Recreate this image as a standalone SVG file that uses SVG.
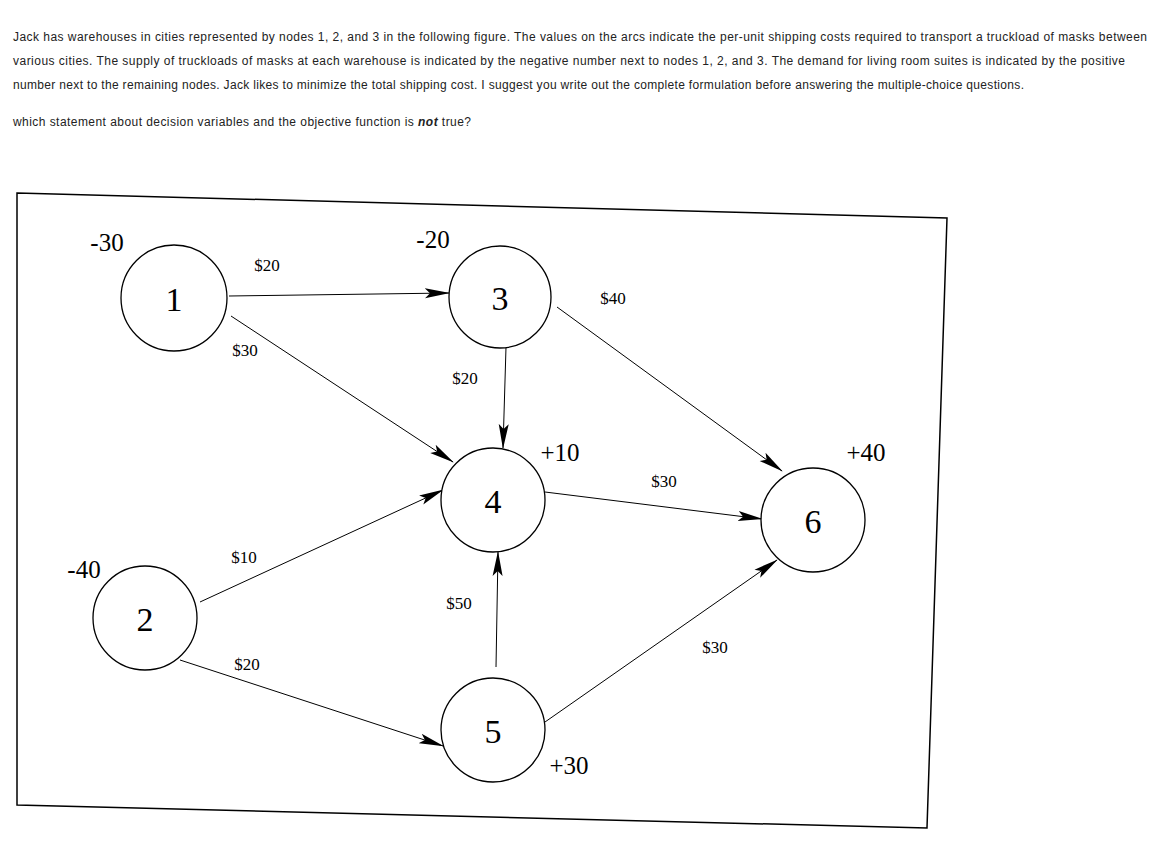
<svg xmlns="http://www.w3.org/2000/svg" width="1165" height="856" viewBox="0 0 1165 856">
<style>
.q{font-family:"Liberation Sans",Arial,sans-serif;font-size:12px;fill:#222}
.n circle{fill:#fff;stroke:#000;stroke-width:1.3}
.n text{font-family:"Liberation Serif","Times New Roman",serif;font-size:34px;text-anchor:middle}
.c{font-family:"Liberation Serif","Times New Roman",serif;font-size:17px;text-anchor:middle}
.s{font-family:"Liberation Serif","Times New Roman",serif;font-size:25px;text-anchor:middle}
#edges line{stroke:#000;stroke-width:1;marker-end:url(#a)}
</style>
<defs><marker id="a" markerWidth="26" markerHeight="12" refX="24" refY="6" orient="auto" markerUnits="userSpaceOnUse"><path d="M0,1 L25,6 L0,11 L5,6 Z" fill="#000"/></marker></defs>
<rect width="1165" height="856" fill="#fff"/>
<text class="q" x="13" y="41" textLength="1134" lengthAdjust="spacing">Jack has warehouses in cities represented by nodes 1, 2, and 3 in the following figure.  The values on the arcs indicate the per-unit shipping costs required to transport a truckload of masks between</text>
<text class="q" x="13" y="65" textLength="1112" lengthAdjust="spacing">various cities.  The supply of truckloads of masks at each warehouse is indicated by the negative number next to nodes 1, 2, and 3.  The demand for living room suites is indicated by the positive</text>
<text class="q" x="13" y="89" textLength="1011" lengthAdjust="spacing">number next to the remaining nodes.  Jack likes to minimize the total shipping cost.  I suggest you write out the complete formulation before answering the multiple-choice questions.</text>
<text class="q" x="13" y="126" textLength="458" lengthAdjust="spacing">which statement about decision variables and the objective function is <tspan font-weight="bold" font-style="italic">not</tspan> true?</text>
<polygon points="17,193 947,218 927,828 17,805" fill="none" stroke="#000" stroke-width="1.5"/>
<g id="edges">
<line x1="229" y1="296" x2="449" y2="293"/>
<line x1="231" y1="316" x2="453" y2="462"/>
<line x1="506" y1="347" x2="503" y2="448"/>
<line x1="557" y1="307" x2="782" y2="471"/>
<line x1="545" y1="492" x2="762" y2="519"/>
<line x1="200" y1="602" x2="443" y2="490"/>
<line x1="496" y1="667" x2="498" y2="552"/>
<line x1="180" y1="660" x2="443" y2="746"/>
<line x1="545" y1="722" x2="777" y2="560"/>
</g>
<g class="c">
<text x="267" y="271">$20</text><text x="245" y="356">$30</text><text x="465" y="384">$20</text>
<text x="613" y="304">$40</text><text x="664" y="487">$30</text><text x="244" y="563">$10</text>
<text x="459" y="609">$50</text><text x="247" y="670">$20</text><text x="715" y="653">$30</text>
</g>
<g class="s">
<text x="107" y="251">-30</text><text x="433" y="248">-20</text><text x="560" y="461">+10</text>
<text x="866" y="461">+40</text><text x="84" y="578">-40</text><text x="569" y="774">+30</text>
</g>
<g id="n1" class="n"><circle cx="174" cy="298" r="53"/><text x="174" y="311">1</text></g>
<g id="n2" class="n"><circle cx="145" cy="618" r="52"/><text x="145" y="631">2</text></g>
<g id="n3" class="n"><circle cx="500" cy="297" r="51"/><text x="500" y="310">3</text></g>
<g id="n4" class="n"><circle cx="493" cy="500" r="52"/><text x="493" y="513">4</text></g>
<g id="n5" class="n"><circle cx="493" cy="730" r="52"/><text x="493" y="743">5</text></g>
<g id="n6" class="n"><circle cx="813" cy="520" r="52"/><text x="813" y="533">6</text></g>
</svg>
